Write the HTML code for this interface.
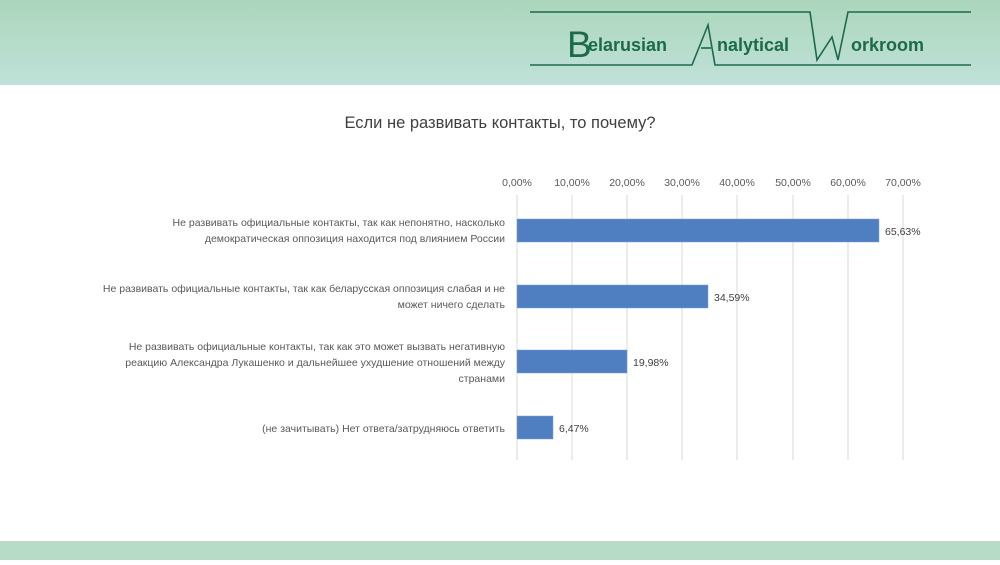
<!DOCTYPE html>
<html><head><meta charset="utf-8"><style>
body{margin:0;width:1000px;height:560px;overflow:hidden;background:#fff;font-family:"Liberation Sans","DejaVu Sans",sans-serif}
</style></head><body>
<svg width="1000" height="560" xmlns="http://www.w3.org/2000/svg">
<defs>
<linearGradient id="h" x1="0" y1="0" x2="0" y2="1"><stop offset="0" stop-color="#abd6bb"/><stop offset="1" stop-color="#c0e1d9"/></linearGradient>
</defs>
<rect x="0" y="0" width="1000" height="85" fill="url(#h)"/>
<rect x="0" y="541" width="1000" height="19" fill="#b6dcc7"/>
<g stroke="#1d6a4a" stroke-width="1.6" fill="none">
<polyline points="530,12 810,12 817,60 832,37 838,60 848,12 971,12"/>
<polyline points="530,65 692,65 708,25 715,65 971,65"/>
<line x1="701" y1="48" x2="711" y2="48"/>
</g>
<g fill="#1d6a4a" font-weight="bold">
<text x="567" y="57" font-size="37" font-weight="normal">B</text>
<text x="588" y="51" font-size="18">elarusian</text>
<text x="717" y="51" font-size="18">nalytical</text>
<text x="851" y="51" font-size="18">orkroom</text>
</g>
<text x="500" y="128" font-size="16.5" fill="#404040" text-anchor="middle">Если не развивать контакты, то почему?</text>
<g stroke="#d9d9d9" stroke-width="1">
<line x1="517" y1="195" x2="517" y2="460"/><line x1="572" y1="195" x2="572" y2="460"/><line x1="627" y1="195" x2="627" y2="460"/><line x1="682" y1="195" x2="682" y2="460"/><line x1="737" y1="195" x2="737" y2="460"/><line x1="793" y1="195" x2="793" y2="460"/><line x1="848" y1="195" x2="848" y2="460"/><line x1="903" y1="195" x2="903" y2="460"/>
</g>
<g font-size="10.5" fill="#595959" text-anchor="middle">
<text x="517" y="186">0,00%</text><text x="572" y="186">10,00%</text><text x="627" y="186">20,00%</text><text x="682" y="186">30,00%</text><text x="737" y="186">40,00%</text><text x="793" y="186">50,00%</text><text x="848" y="186">60,00%</text><text x="903" y="186">70,00%</text>
</g>
<g fill="#4f7fc1" stroke="#7aa0d6" stroke-width="0.5">
<rect x="517" y="219" width="362" height="23"/>
<rect x="517" y="285" width="191" height="23"/>
<rect x="517" y="350" width="110" height="23"/>
<rect x="517" y="416" width="36" height="23"/>
</g>
<g font-size="10.5" fill="#404040">
<text x="885" y="235">65,63%</text><text x="714" y="301">34,59%</text><text x="633" y="366">19,98%</text><text x="559" y="432">6,47%</text>
</g>
<g font-size="10.5" fill="#595959" text-anchor="end">
<text x="505" y="226">Не развивать официальные контакты, так как непонятно, насколько</text>
<text x="505" y="242">демократическая оппозиция находится под влиянием России</text>
<text x="505" y="292">Не развивать официальные контакты, так как беларусская оппозиция слабая и не</text>
<text x="505" y="308">может ничего сделать</text>
<text x="505" y="350">Не развивать официальные контакты, так как это может вызвать негативную</text>
<text x="505" y="366">реакцию Александра Лукашенко и дальнейшее ухудшение отношений между</text>
<text x="505" y="382">странами</text>
<text x="505" y="432">(не зачитывать) Нет ответа/затрудняюсь ответить</text>
</g>
</svg>
</body></html>
